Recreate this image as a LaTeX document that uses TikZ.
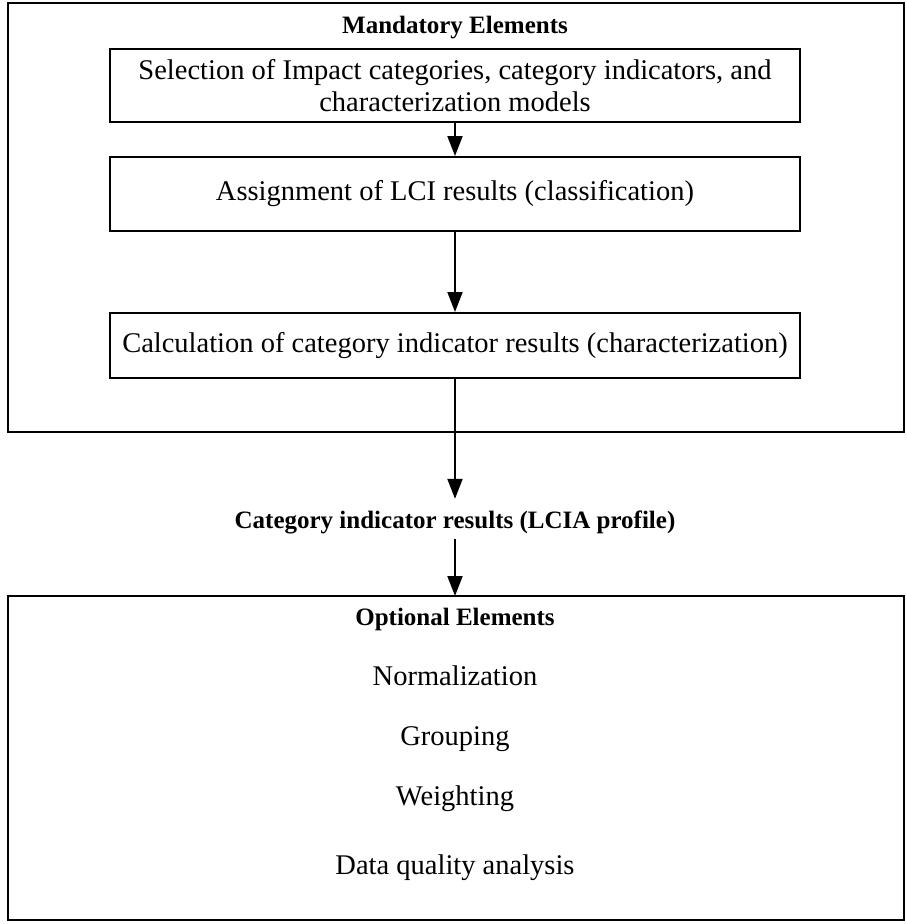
\documentclass[tikz,border=0pt]{standalone}
\usepackage{fontspec}
\setmainfont{Liberation Serif}
\usetikzlibrary{arrows.meta}

\begin{document}
\begin{tikzpicture}[x=1pt,y=-1pt,
  font=\fontsize{28.5}{32}\selectfont,
  frame/.style={draw=black,line width=2pt},
  stepbox/.style={draw=black,line width=2pt,minimum width=690pt,align=center,inner sep=0pt},
  heading/.style={font=\fontsize{25}{32}\selectfont\bfseries,text height=18pt,text depth=6pt,inner sep=0pt},
  item/.style={text height=19pt,text depth=6pt,inner sep=0pt},
  flow/.style={line width=2pt,-{Triangle[width=15pt,length=20pt]}}
]
\useasboundingbox (0,0) rectangle (907,924);

% Mandatory elements frame
\draw[frame] (8,3) rectangle (904,432);
\node[heading] (mand) at (455,27) {Mandatory Elements};

\node[stepbox,minimum height=73pt] (sel) at (455,85.5)
  {Selection of Impact categories, category indicators, and\\characterization models};
\node[stepbox,minimum height=74pt] (assign) at (455,194)
  {Assignment of LCI results (classification)};
\node[stepbox,minimum height=65pt] (calc) at (455,345.5)
  {Calculation of category indicator results (characterization)};

% LCIA profile
\node[heading] (profile) at (455,522) {Category indicator results (LCIA profile)};

% Optional elements frame
\draw[frame] (8,596) rectangle (904,920);
\coordinate (opttop) at (455,596);
\node[heading] (opt) at (455,619) {Optional Elements};
\node[item] (norm) at (455,679) {Normalization};
\node[item] (group) at (455,739) {Grouping};
\node[item] (weight) at (455,799) {Weighting};
\node[item] (dqa) at (455,868) {Data quality analysis};

% Connectors
\draw[flow] (sel.south) -- (assign.north);
\draw[flow] (assign.south) -- (calc.north);
\draw[flow] (calc.south) -- ([yshift=11pt]profile.north);
\draw[flow] ([yshift=-5pt]profile.south) -- (opttop);
\end{tikzpicture}
\end{document}
